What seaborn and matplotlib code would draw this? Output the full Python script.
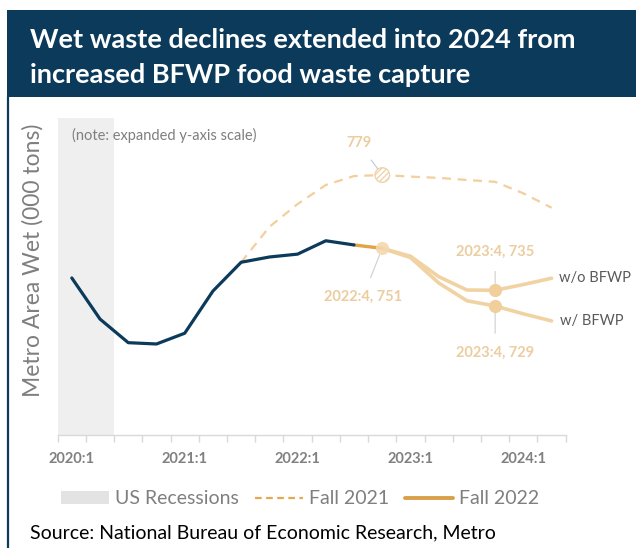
import matplotlib
matplotlib.use('Agg')
import matplotlib.pyplot as plt
import seaborn as sns
import pandas as pd
from matplotlib.patches import Rectangle, Patch
from matplotlib.lines import Line2D

# ---------------- data ----------------
quarters = ['2020:1', '2020:2', '2020:3', '2020:4',
            '2021:1', '2021:2', '2021:3', '2021:4',
            '2022:1', '2022:2', '2022:3', '2022:4',
            '2023:1', '2023:2', '2023:3', '2023:4',
            '2024:1', '2024:2']
tick_labels = ['2020:1', '2021:1', '2022:1', '2023:1', '2024:1']

actual_q = quarters[0:11]
actual = [739.7, 724.0, 715.0, 714.5, 718.6, 734.7, 745.7, 747.7, 748.8, 753.9, 752.3]

fall2021_q = quarters[6:18]
fall2021 = [745.7, 759.2, 767.9, 775.2, 778.6, 779.0, 778.4, 777.9, 777.1, 776.4, 772.0, 766.5]

bridge_q = quarters[10:12]
bridge = [752.3, 751.0]

scen_q = quarters[11:18]
wo_bfwp = [751.0, 748.0, 740.2, 735.1, 735.0, 737.2, 739.6]
w_bfwp = [751.0, 747.5, 737.8, 731.0, 729.0, 726.0, 723.3]

recession_q = ['2020:1', '2020:2']

# ---------------- style ----------------
W, H = 636, 548
sns.set_theme(style='white')
plt.rcParams['font.family'] = ['Lato', 'DejaVu Sans']

NAVY = '#0c3a5b'
TAN = '#f1d3a3'
TAN_TXT = '#ebcd9f'
DARK_OR = '#e0a445'
DASH_C = '#f2cf9c'
GREY_TXT = '#7f7f7f'

fig = plt.figure(figsize=(W / 100, H / 100), dpi=100)

def fx(px):
    return px / W

def fy(py):
    return 1 - py / H

# banner
fig.patches.append(Rectangle((fx(7), fy(97)), 1 - fx(7), fy(10) - fy(97),
                             transform=fig.transFigure, facecolor=NAVY,
                             edgecolor='none', zorder=0))
fig.add_artist(Line2D([fx(7.5), fx(7.5)], [fy(97), 0], transform=fig.transFigure,
                      color=NAVY, linewidth=1.6))
fig.text(fx(30), fy(40), 'Wet waste declines extended into 2024 from', color='white',
         fontsize=19.5, fontweight='bold', va='center', ha='left')
fig.text(fx(30), fy(75), 'increased BFWP food waste capture', color='white',
         fontsize=19.5, fontweight='bold', va='center', ha='left')

# axes
ax = fig.add_axes([fx(57.7), fy(435), fx(565.7) - fx(57.7), fy(118) - fy(435)])
idx = {q: i for i, q in enumerate(quarters)}

def pos(qs):
    return [idx[q] for q in qs]

ax.axvspan(pos(recession_q)[0] - 0.5, pos(recession_q)[-1] + 0.5, color='#efefef', zorder=0, lw=0)

sns.lineplot(x=pos(fall2021_q), y=fall2021, ax=ax, color=DASH_C, linewidth=1.6,
             linestyle=(0, (4, 3)), zorder=2)
sns.lineplot(x=pos(scen_q), y=wo_bfwp, ax=ax, color=TAN, linewidth=2.6, zorder=3)
sns.lineplot(x=pos(scen_q), y=w_bfwp, ax=ax, color=TAN, linewidth=2.6, zorder=3)
sns.lineplot(x=pos(bridge_q), y=bridge, ax=ax, color=DARK_OR, linewidth=2.4, zorder=4)
sns.lineplot(x=pos(actual_q), y=actual, ax=ax, color=NAVY, linewidth=2.3, zorder=5)

# markers
i22 = idx['2022:4']
i23 = idx['2023:4']
ax.plot([i22], [bridge[-1]], 'o', ms=9.5, color='#f4d8ae', mec='none', zorder=6, alpha=0.9)
ax.plot([i23], [wo_bfwp[4]], 'o', ms=9.5, color='#f0cf9c', mec='none', zorder=6)
ax.plot([i23], [w_bfwp[4]], 'o', ms=9.5, color='#f0cf9c', mec='none', zorder=6)
ax.scatter([i22], [fall2021[5]], s=110, facecolor='white', edgecolor='#efd4ab',
           hatch='//////', linewidth=1.0, zorder=6)

# annotations
ax.annotate('779', xy=(i22, fall2021[5]), xytext=(-17, 23), textcoords='offset points',
            color=TAN_TXT, fontsize=10.5, fontweight='bold', ha='center', va='center',
            arrowprops=dict(arrowstyle='-', color='#b8cadb', lw=0.8, shrinkA=6, shrinkB=5))
ax.annotate('2022:4, 751', xy=(i22, bridge[-1]), xytext=(-14, -35), textcoords='offset points',
            color=TAN_TXT, fontsize=10.5, fontweight='bold', ha='center', va='center',
            arrowprops=dict(arrowstyle='-', color='#cfcfcf', lw=0.8, shrinkA=7, shrinkB=5))
ax.annotate('2023:4, 735', xy=(i23, wo_bfwp[4]), xytext=(0, 28), textcoords='offset points',
            color=TAN_TXT, fontsize=10.5, fontweight='bold', ha='center', va='center',
            arrowprops=dict(arrowstyle='-', color='#cfcfcf', lw=0.8, shrinkA=7, shrinkB=5))
ax.annotate('2023:4, 729', xy=(i23, w_bfwp[4]), xytext=(0, -34), textcoords='offset points',
            color=TAN_TXT, fontsize=10.5, fontweight='bold', ha='center', va='center',
            arrowprops=dict(arrowstyle='-', color='#cfcfcf', lw=0.8, shrinkA=7, shrinkB=5))
ax.annotate('w/o BFWP', xy=(len(quarters) - 1, wo_bfwp[-1]), xytext=(5, 0),
            textcoords='offset points', color='#595959', fontsize=10.5, ha='left',
            va='center', annotation_clip=False)
ax.annotate('w/ BFWP', xy=(len(quarters) - 1, w_bfwp[-1]), xytext=(6, 0),
            textcoords='offset points', color='#595959', fontsize=10.5, ha='left',
            va='center', annotation_clip=False)

ax.text(fx(71.7 - 57.7) / (fx(565.7) - fx(57.7)), 1 - (135 - 118) / (435 - 118),
        '(note: expanded y-axis scale)', transform=ax.transAxes, color=GREY_TXT,
        fontsize=10.5, ha='left', va='center')

# axis scales
ax.set_xlim(-0.5, len(quarters) - 0.5)
ax.set_ylim(679.76, 800.76)
for s in ['top', 'right', 'left']:
    ax.spines[s].set_visible(False)
ax.spines['bottom'].set_color('#d9d9d9')
ax.spines['bottom'].set_linewidth(1.0)
ax.set_yticks([])
ax.set_xticks([i - 0.5 for i in range(len(quarters) + 1)])
ax.set_xticklabels([])
ax.tick_params(axis='x', which='major', length=5, width=1, color='#d9d9d9', bottom=True)
ax.set_xticks([idx[t] for t in tick_labels], minor=True)
ax.set_xticklabels(tick_labels, minor=True, color='#808080', fontsize=10.5, fontweight='bold')
ax.tick_params(axis='x', which='minor', length=0, pad=12)
ax.set_xlabel('')
ax.set_ylabel('')
ax.patch.set_alpha(0)

fig.text(fx(33), fy(260), 'Metro Area Wet (000 tons)', rotation=90, color=GREY_TXT,
         fontsize=16.5, ha='center', va='center')

# legend
handles = [Patch(facecolor='#e3e3e3', edgecolor='none'),
           Line2D([0], [0], color='#e6a84e', lw=1.6, linestyle=(0, (3, 2))),
           Line2D([0], [0], color='#d9a04a', lw=2.8)]
fig.legend(handles, ['US Recessions', 'Fall 2021', 'Fall 2022'], loc='center',
           bbox_to_anchor=(fx(300), fy(499)), ncol=3, frameon=False, fontsize=14,
           labelcolor=GREY_TXT, handlelength=2.5, handletextpad=0.3, columnspacing=0.8,
           handleheight=0.6)

fig.text(fx(30), fy(533), 'Source: National Bureau of Economic Research, Metro',
         color='black', fontsize=14, ha='left', va='center')

fig.savefig('out.png', dpi=100)
